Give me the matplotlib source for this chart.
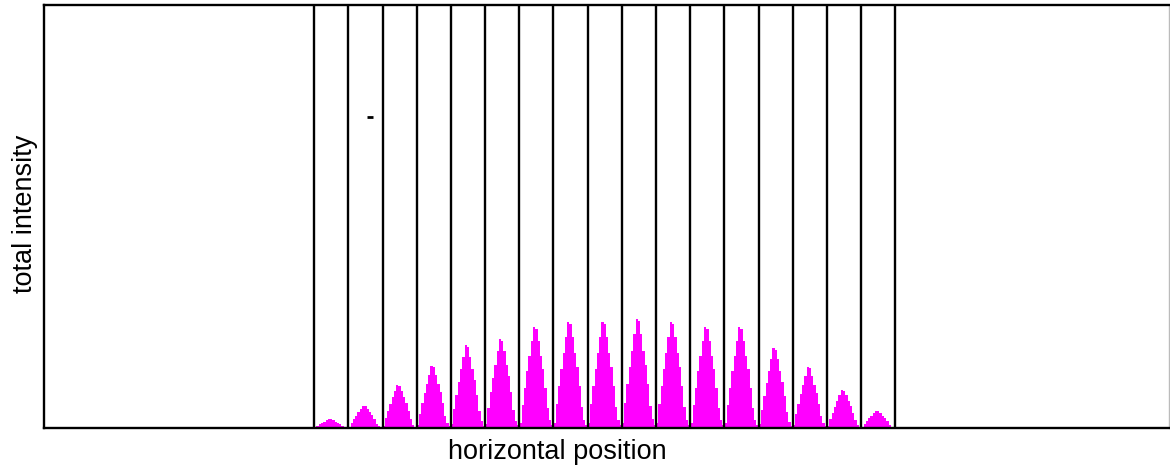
import matplotlib.pyplot as plt
import numpy as np

# slit boundaries (in slit-width units) and per-slit peak intensity
slit_edges = list(range(18))
peak_heights = [9, 22, 43, 62, 83, 89, 101, 106, 106, 109, 106, 101, 101, 80, 61, 38, 17]
bin_profile = [0.05, 0.23, 0.40, 0.56, 0.71, 0.86, 1.0, 0.98, 0.86, 0.71, 0.58, 0.40, 0.20, 0.08, 0.03]
# stray single count above slit 2
stray_x = [1.64]
stray_y = [311]

n_bins = len(bin_profile)

fig = plt.figure(figsize=(11.7, 4.74), dpi=100)
ax = fig.add_axes([44 / 1170, 46 / 474, 1125 / 1170, 423 / 474])

for k, h in enumerate(peak_heights):
    edges = k + np.linspace(0, 1, n_bins + 1)
    ax.stairs([h * p for p in bin_profile], edges, fill=True,
              color='#ff00ff', linewidth=0, zorder=2)

for e in slit_edges:
    ax.axvline(e, color='black', lw=1.7, zorder=3)

ax.plot(stray_x, stray_y, marker='_', color='black', ms=5, mew=2, ls='none', zorder=4)

ax.set_xlim(-7.9, 25.0)
ax.set_ylim(0, 423)
ax.set_xticks([])
ax.set_yticks([])
for s in ['left', 'top', 'bottom']:
    ax.spines[s].set_linewidth(1.7)
    ax.spines[s].set_color('black')
ax.spines['right'].set_color('#bbbbbb')
ax.spines['right'].set_linewidth(1.0)

fig.text(557 / 1170, 1 - 452 / 474, 'horizontal position', ha='center', va='center',
         fontsize=19.5, family='Liberation Sans')
fig.text(25 / 1170, 1 - 214 / 474, 'total intensity', ha='center', va='center',
         rotation=90, fontsize=19.5, family='Liberation Sans')

fig.savefig('out.png', dpi=100)
